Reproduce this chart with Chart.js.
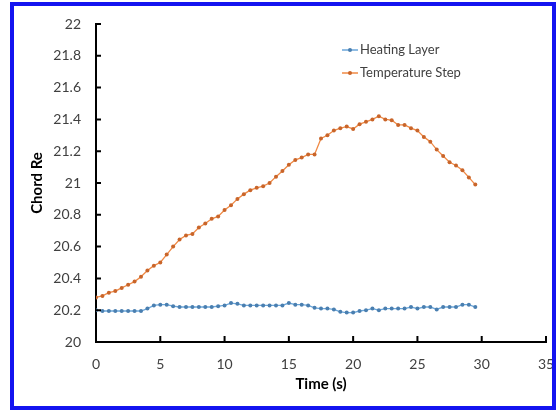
<!DOCTYPE html>
<html>
<head>
<meta charset="utf-8">
<script src="https://cdn.jsdelivr.net/npm/chart.js@4.4.0/dist/chart.umd.min.js"></script>
<style>
  body { margin: 0; background: #fff; }
  #wrap { position: relative; width: 559px; height: 410px; }
  #chartRe { position: absolute; left: 0; top: 0; }
  #frame {
    position: absolute; left: 10px; top: 2px;
    width: 538px; height: 400px;
    border: 4px solid #1414f0;
    pointer-events: none;
  }
</style>
</head>
<body>
<div id="wrap">
  <canvas id="chartRe" width="559" height="410"></canvas>
  <div id="frame"></div>
</div>
<script>
// ===== dados =====
const tempos = [
  0, 0.5, 1, 1.5, 2, 2.5, 3, 3.5, 4, 4.5, 5, 5.5, 6, 6.5, 7, 7.5,
  8, 8.5, 9, 9.5, 10, 10.5, 11, 11.5, 12, 12.5, 13, 13.5, 14, 14.5, 15, 15.5,
  16, 16.5, 17, 17.5, 18, 18.5, 19, 19.5, 20, 20.5, 21, 21.5, 22, 22.5, 23, 23.5,
  24, 24.5, 25, 25.5, 26, 26.5, 27, 27.5, 28, 28.5, 29, 29.5
];

const heatingLayer = [
  20.20, 20.195, 20.195, 20.195, 20.195, 20.195, 20.195, 20.195,
  20.21, 20.23, 20.235, 20.235, 20.225, 20.22, 20.22, 20.22,
  20.22, 20.22, 20.22, 20.225, 20.23, 20.245, 20.24, 20.23,
  20.23, 20.23, 20.23, 20.23, 20.23, 20.23, 20.245, 20.235,
  20.235, 20.23, 20.215, 20.21, 20.21, 20.205, 20.19, 20.185,
  20.185, 20.195, 20.20, 20.21, 20.20, 20.21, 20.21, 20.21,
  20.21, 20.22, 20.21, 20.22, 20.22, 20.205, 20.22, 20.22,
  20.22, 20.235, 20.235, 20.22
];

const temperatureStep = [
  20.28, 20.29, 20.31, 20.32, 20.34, 20.36, 20.38, 20.41,
  20.45, 20.48, 20.50, 20.55, 20.60, 20.645, 20.67, 20.68,
  20.72, 20.745, 20.775, 20.79, 20.83, 20.86, 20.90, 20.93,
  20.955, 20.97, 20.98, 21.00, 21.04, 21.075, 21.115, 21.145,
  21.16, 21.18, 21.18, 21.28, 21.30, 21.33, 21.345, 21.355,
  21.34, 21.37, 21.385, 21.40, 21.42, 21.40, 21.395, 21.365,
  21.365, 21.345, 21.33, 21.29, 21.26, 21.21, 21.17, 21.13,
  21.11, 21.08, 21.035, 20.99
];

const xTicks = [0, 5, 10, 15, 20, 25, 30, 35];
const yTicks = [20, 20.2, 20.4, 20.6, 20.8, 21, 21.2, 21.4, 21.6, 21.8, 22];

const pontos = (ys) => tempos.map((t, i) => ({ x: t, y: ys[i] }));

// ticks para dentro, como no Excel
const ticksInternos = {
  id: "ticksInternos",
  afterDraw(chart) {
    const { ctx, scales: { x, y } } = chart;
    ctx.save();
    ctx.strokeStyle = "#000";
    ctx.lineWidth = 2;
    ctx.beginPath();
    xTicks.forEach((v) => {
      const px = x.getPixelForValue(v);
      ctx.moveTo(px, y.bottom);
      ctx.lineTo(px, y.bottom - 6);
    });
    yTicks.forEach((v) => {
      const py = y.getPixelForValue(v);
      ctx.moveTo(x.left, py);
      ctx.lineTo(x.left + 5, py);
    });
    ctx.stroke();
    ctx.restore();
  },
};

// legenda dentro da área do gráfico
const legendaInterna = {
  id: "legendaInterna",
  afterDraw(chart) {
    const { ctx } = chart;
    const x0 = 342;
    const linhas = [50, 73];
    ctx.save();
    chart.data.datasets.forEach((ds, i) => {
      const yy = linhas[i];
      ctx.strokeStyle = ds.borderColor;
      ctx.lineWidth = 1.5;
      ctx.beginPath();
      ctx.moveTo(x0, yy);
      ctx.lineTo(x0 + 16, yy);
      ctx.stroke();
      ctx.fillStyle = ds.pointBackgroundColor;
      ctx.beginPath();
      ctx.arc(x0 + 8, yy, 2, 0, Math.PI * 2);
      ctx.fill();
      ctx.fillStyle = "#404040";
      ctx.font = "13px Lato";
      ctx.textBaseline = "middle";
      ctx.fillText(ds.label, x0 + 18, yy);
    });
    ctx.restore();
  },
};

new Chart(document.getElementById("chartRe"), {
  type: "line",
  data: {
    datasets: [
      {
        label: "Heating Layer",
        data: pontos(heatingLayer),
        borderColor: "#6aa6da",
        backgroundColor: "#6aa6da",
        pointBackgroundColor: "#4a7fb0",
        pointBorderWidth: 0,
        pointRadius: 2,
        borderWidth: 1.3,
        tension: 0,
      },
      {
        label: "Temperature Step",
        data: pontos(temperatureStep),
        borderColor: "#f08a45",
        backgroundColor: "#f08a45",
        pointBackgroundColor: "#c9652a",
        pointBorderWidth: 0,
        pointRadius: 2,
        borderWidth: 1.3,
        tension: 0,
      },
    ],
  },
  options: {
    responsive: false,
    animation: false,
    layout: { padding: { left: 0, top: 24, right: 13, bottom: 0 } },
    plugins: { legend: { display: false }, tooltip: { enabled: false } },
    scales: {
      x: {
        type: "linear",
        min: 0,
        max: 35,
        afterBuildTicks: (s) => { s.ticks = xTicks.map((v) => ({ value: v })); },
        afterFit: (s) => {
          s.height = 68;
          s.paddingLeft = 0;
          s.paddingRight = 0;
        },
        grid: { display: false, drawTicks: false },
        border: { color: "#000", width: 2 },
        ticks: {
          padding: 14,
          color: "#404040",
          font: { family: "Lato", size: 14 },
        },
        title: {
          display: true,
          text: "Time (s)",
          color: "#000",
          font: { family: "Lato", size: 15, weight: "bold" },
          padding: { top: 0, bottom: 17 },
        },
      },
      y: {
        type: "linear",
        min: 20,
        max: 22,
        afterBuildTicks: (s) => { s.ticks = yTicks.map((v) => ({ value: v })); },
        afterFit: (s) => { s.width = 96; },
        grid: { display: false, drawTicks: false },
        border: { color: "#000", width: 2 },
        ticks: {
          padding: 15,
          color: "#404040",
          font: { family: "Lato", size: 14 },
          callback: (v) => String(Number(v.toFixed(1))),
        },
        title: {
          display: true,
          text: "Chord Re",
          color: "#000",
          font: { family: "Lato", size: 15, weight: "bold" },
          padding: { top: 28, bottom: 0 },
        },
      },
    },
  },
  plugins: [ticksInternos, legendaInterna],
});
</script>
</body>
</html>
